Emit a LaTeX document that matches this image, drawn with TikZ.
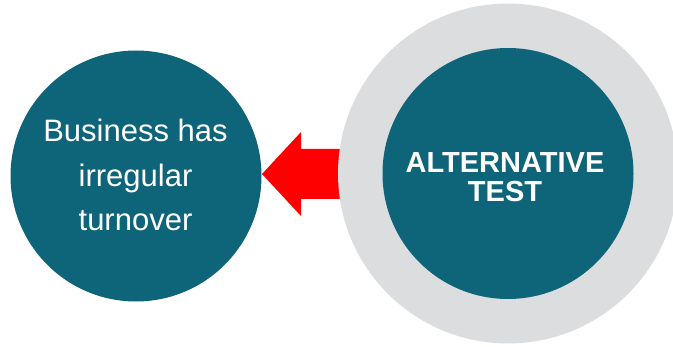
\documentclass[tikz,border=0pt]{standalone}
\usepackage{fontspec}
\setmainfont{Liberation Sans}
\definecolor{teal}{HTML}{0E6479}
\definecolor{ringgray}{HTML}{DCDDDF}
\definecolor{arrowred}{HTML}{FF0000}
\begin{document}
\begin{tikzpicture}[x=1pt,y=1pt,
  disc/.style={circle,fill=teal,draw=none,inner sep=0pt},
  lefttext/.style={text=white,font=\fontsize{31}{45}\selectfont,anchor=base,inner sep=0pt},
  righttext/.style={text=white,font=\bfseries\fontsize{29}{30}\selectfont,anchor=base,inner sep=0pt}]
\useasboundingbox (0,0) rectangle (673,346);
% red arrow (drawn beneath the ring)
\coordinate (tip) at (262,172);
\fill[arrowred] (tip) -- (301,214) -- (301,197) -- (348,197) -- (348,147) -- (301,147) -- (301,130) -- cycle;
% gray ring and inner disc
\node[circle,fill=ringgray,minimum size=340pt,inner sep=0pt] (ring) at (508,172.5) {};
\node[disc,minimum size=251pt] (alt) at (508,172.5) {};
% left disc
\node[disc,minimum size=251pt] (biz) at (136,170) {};
% texts
\node[lefttext] (l1) at (135.5,204.5) {Business has};
\node[lefttext] (l2) at (135.5,159.5) {irregular};
\node[lefttext] (l3) at (135.5,115) {turnover};
\node[righttext] (r1) at (505,173.7) {ALTERNATIVE};
\node[righttext] (r2) at (505,144.3) {TEST};
\end{tikzpicture}
\end{document}
